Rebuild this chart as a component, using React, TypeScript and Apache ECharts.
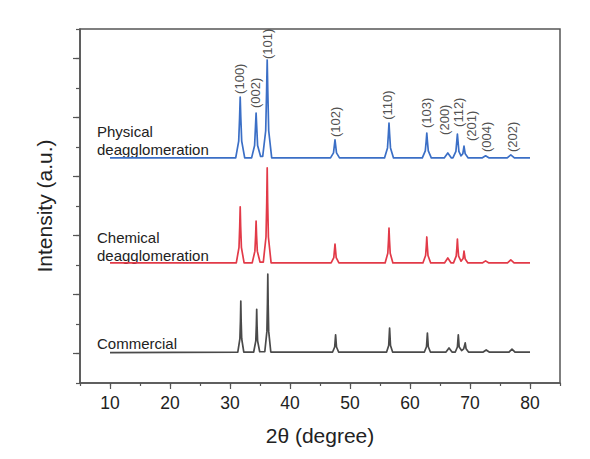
import React, { useEffect, useRef } from "react";
import * as echarts from "echarts";

// XRD traces: [2θ, offset intensity]
const physical: number[][] = [
  [10, 7.63], [30.95, 7.63], [31.45, 8.2], [31.6, 9.0], [31.7, 9.69], [31.8, 9.0], [31.95, 8.2], [32.45, 7.63],
  [33.6, 7.63], [34.1, 8.05], [34.25, 8.7], [34.35, 9.15], [34.45, 8.7], [34.6, 8.05], [35.1, 7.68],
  [35.45, 7.68], [35.95, 8.55], [36.1, 9.9], [36.2, 10.95], [36.3, 9.9], [36.45, 8.55], [36.95, 7.63],
  [46.75, 7.63], [47.25, 7.8], [47.5, 8.24], [47.75, 7.8], [48.25, 7.63],
  [55.75, 7.63], [56.25, 7.97], [56.4, 8.45], [56.5, 8.81], [56.6, 8.45], [56.75, 7.97], [57.25, 7.63],
  [62.05, 7.63], [62.55, 7.87], [62.7, 8.2], [62.8, 8.47], [62.9, 8.2], [63.05, 7.87], [63.55, 7.63],
  [65.7, 7.63], [66.3, 7.8], [66.9, 7.63],
  [67.15, 7.63], [67.65, 7.85], [67.8, 8.2], [67.9, 8.44], [68.0, 8.2], [68.15, 7.85], [68.5, 7.7], [68.8, 7.77], [69.0, 8.03], [69.2, 7.77], [69.7, 7.63],
  [72.0, 7.63], [72.6, 7.7], [73.2, 7.63],
  [76.2, 7.63], [76.8, 7.73], [77.4, 7.63],
  [80, 7.63],
];

const chemical: number[][] = [
  [10, 4.07], [31.05, 4.07], [31.5, 4.6], [31.62, 5.3], [31.7, 5.97], [31.78, 5.3], [31.9, 4.6], [32.35, 4.07],
  [33.7, 4.07], [34.15, 4.47], [34.27, 5.0], [34.35, 5.49], [34.43, 5.0], [34.55, 4.47], [35.0, 4.1],
  [35.55, 4.1], [36.0, 4.95], [36.12, 6.1], [36.2, 7.29], [36.28, 6.1], [36.4, 4.95], [36.85, 4.07],
  [46.85, 4.07], [47.3, 4.25], [47.5, 4.71], [47.7, 4.25], [48.15, 4.07],
  [55.85, 4.07], [56.3, 4.4], [56.42, 4.85], [56.5, 5.25], [56.58, 4.85], [56.7, 4.4], [57.15, 4.07],
  [62.15, 4.07], [62.6, 4.32], [62.72, 4.65], [62.8, 4.95], [62.88, 4.65], [63.0, 4.32], [63.45, 4.07],
  [65.75, 4.07], [66.3, 4.24], [66.85, 4.07],
  [67.25, 4.07], [67.7, 4.3], [67.82, 4.6], [67.9, 4.88], [67.98, 4.6], [68.1, 4.3], [68.5, 4.13], [68.85, 4.22], [69.0, 4.47], [69.2, 4.2], [69.65, 4.07],
  [72.05, 4.07], [72.6, 4.14], [73.15, 4.07],
  [76.25, 4.07], [76.8, 4.17], [77.35, 4.07],
  [80, 4.07],
];

const commercial: number[][] = [
  [10, 1.03], [31.3, 1.05], [31.65, 1.5], [31.74, 2.1], [31.8, 2.78], [31.86, 2.1], [31.95, 1.5], [32.3, 1.05],
  [33.95, 1.05], [34.3, 1.43], [34.39, 1.95], [34.45, 2.5], [34.51, 1.95], [34.6, 1.43], [34.95, 1.06],
  [35.8, 1.06], [36.15, 1.75], [36.24, 2.7], [36.3, 3.69], [36.36, 2.7], [36.45, 1.75], [36.8, 1.05],
  [47.1, 1.05], [47.45, 1.22], [47.6, 1.63], [47.75, 1.22], [48.1, 1.05],
  [56.1, 1.05], [56.45, 1.27], [56.6, 1.86], [56.75, 1.27], [57.1, 1.05],
  [62.4, 1.05], [62.75, 1.23], [62.9, 1.69], [63.05, 1.23], [63.4, 1.05],
  [66.0, 1.05], [66.5, 1.19], [67.0, 1.05],
  [67.55, 1.05], [67.9, 1.22], [68.05, 1.63], [68.2, 1.22], [68.6, 1.1], [68.95, 1.16], [69.2, 1.36], [69.35, 1.16], [69.75, 1.05],
  [72.2, 1.05], [72.7, 1.12], [73.2, 1.05],
  [76.5, 1.05], [77.0, 1.15], [77.5, 1.05],
  [80, 1.05],
];

// Miller-index annotations (position of label start, in data units)
const hklNames = ["(100)", "(002)", "(101)", "(102)", "(110)", "(103)", "(200)", "(112)", "(201)", "(004)", "(202)"];
const hklX = [31.5, 34.3, 36.3, 47.5, 56.3, 62.8, 65.8, 68.0, 70.2, 72.8, 77.0];
const hklY = [9.8, 9.32, 10.98, 8.34, 8.92, 8.64, 8.41, 8.68, 8.2, 7.83, 7.83];

const xTickLabels = [10, 20, 30, 40, 50, 60, 70, 80];
const yMajorTicks = [1, 3, 5, 7, 9, 11];

const sampleNames = ["Physical\ndeagglomeration", "Chemical\ndeagglomeration", "Commercial"];
const colors = ["#3b6fc6", "#e23a48", "#4a4a4a"];

const FONT = "Arial, 'Liberation Sans', sans-serif";
const AXIS_COLOR = "#555";

export default function App() {
  const ref = useRef<HTMLDivElement>(null);
  useEffect(() => {
    if (!ref.current) return;
    const chart = echarts.init(ref.current, undefined, { renderer: "svg" });
    const commonX = { type: "value", min: 5, max: 85, gridIndex: 0 };
    const commonY = { type: "value", min: 0, max: 12, gridIndex: 0 };
    chart.setOption({
      animation: false,
      backgroundColor: "#fff",
      grid: {
        left: 80, right: 30, top: 29, bottom: 76,
        show: true, borderColor: AXIS_COLOR, borderWidth: 1.5, containLabel: false,
      },
      xAxis: [
        {
          ...commonX,
          interval: 5,
          name: "2θ (degree)",
          nameLocation: "middle",
          nameGap: 42,
          nameTextStyle: { fontSize: 21, color: "#222", fontFamily: FONT },
          axisLine: { show: true, lineStyle: { color: AXIS_COLOR, width: 1.5 } },
          axisTick: { show: true, length: 3, lineStyle: { color: AXIS_COLOR, width: 1.2 } },
          axisLabel: {
            margin: 11, fontSize: 17.5, color: "#222", fontFamily: FONT,
            formatter: (v: number) => (xTickLabels.indexOf(v) >= 0 ? String(v) : ""),
          },
          splitLine: { show: false },
        },
        {
          ...commonX,
          position: "bottom",
          axisLine: { show: false },
          axisTick: { show: true, length: 6, customValues: xTickLabels, lineStyle: { color: AXIS_COLOR, width: 1.2 } },
          axisLabel: { show: false },
          splitLine: { show: false },
        },
      ],
      yAxis: [
        {
          ...commonY,
          interval: 1,
          name: "Intensity (a.u.)",
          nameLocation: "middle",
          nameGap: 25,
          nameTextStyle: { fontSize: 21, color: "#222", fontFamily: FONT },
          axisLine: { show: true, lineStyle: { color: AXIS_COLOR, width: 1.5 } },
          axisTick: { show: true, length: 4, lineStyle: { color: AXIS_COLOR, width: 1.2 } },
          axisLabel: { show: false },
          splitLine: { show: false },
        },
        {
          ...commonY,
          position: "left",
          axisLine: { show: false },
          axisTick: { show: true, length: 7, customValues: yMajorTicks, lineStyle: { color: AXIS_COLOR, width: 1.2 } },
          axisLabel: { show: false },
          splitLine: { show: false },
        },
      ],
      graphic: [
        { type: "text", left: 97, top: 122, style: { text: sampleNames[0], font: `15px ${FONT}`, fill: "#222", lineHeight: 18 } },
        { type: "text", left: 97, top: 228, style: { text: sampleNames[1], font: `15px ${FONT}`, fill: "#222", lineHeight: 18 } },
        { type: "text", left: 97, top: 334, style: { text: sampleNames[2], font: `15px ${FONT}`, fill: "#222", lineHeight: 18 } },
      ],
      series: [
        ...[physical, chemical, commercial].map((d, i) => ({
          type: "line",
          name: sampleNames[i],
          data: d,
          xAxisIndex: 0,
          yAxisIndex: 0,
          showSymbol: false,
          symbol: "none",
          smooth: false,
          lineStyle: { color: colors[i], width: 1.7, join: "round" },
          z: 3 - i,
        })),
        {
          type: "scatter",
          xAxisIndex: 0,
          yAxisIndex: 0,
          symbolSize: 0,
          data: hklNames.map((n, i) => ({ name: n, value: [hklX[i], hklY[i]] })),
          label: {
            show: true,
            position: "inside",
            rotate: 90,
            align: "left",
            verticalAlign: "middle",
            formatter: (p: any) => p.name,
            fontSize: 13,
            color: "#222",
            fontFamily: FONT,
          },
          silent: true,
        },
      ],
    });
    return () => chart.dispose();
  }, []);
  return (
    <div
      ref={ref}
      style={{ position: "absolute", left: 0, top: 0, width: 590, height: 459 }}
    />
  );
}
